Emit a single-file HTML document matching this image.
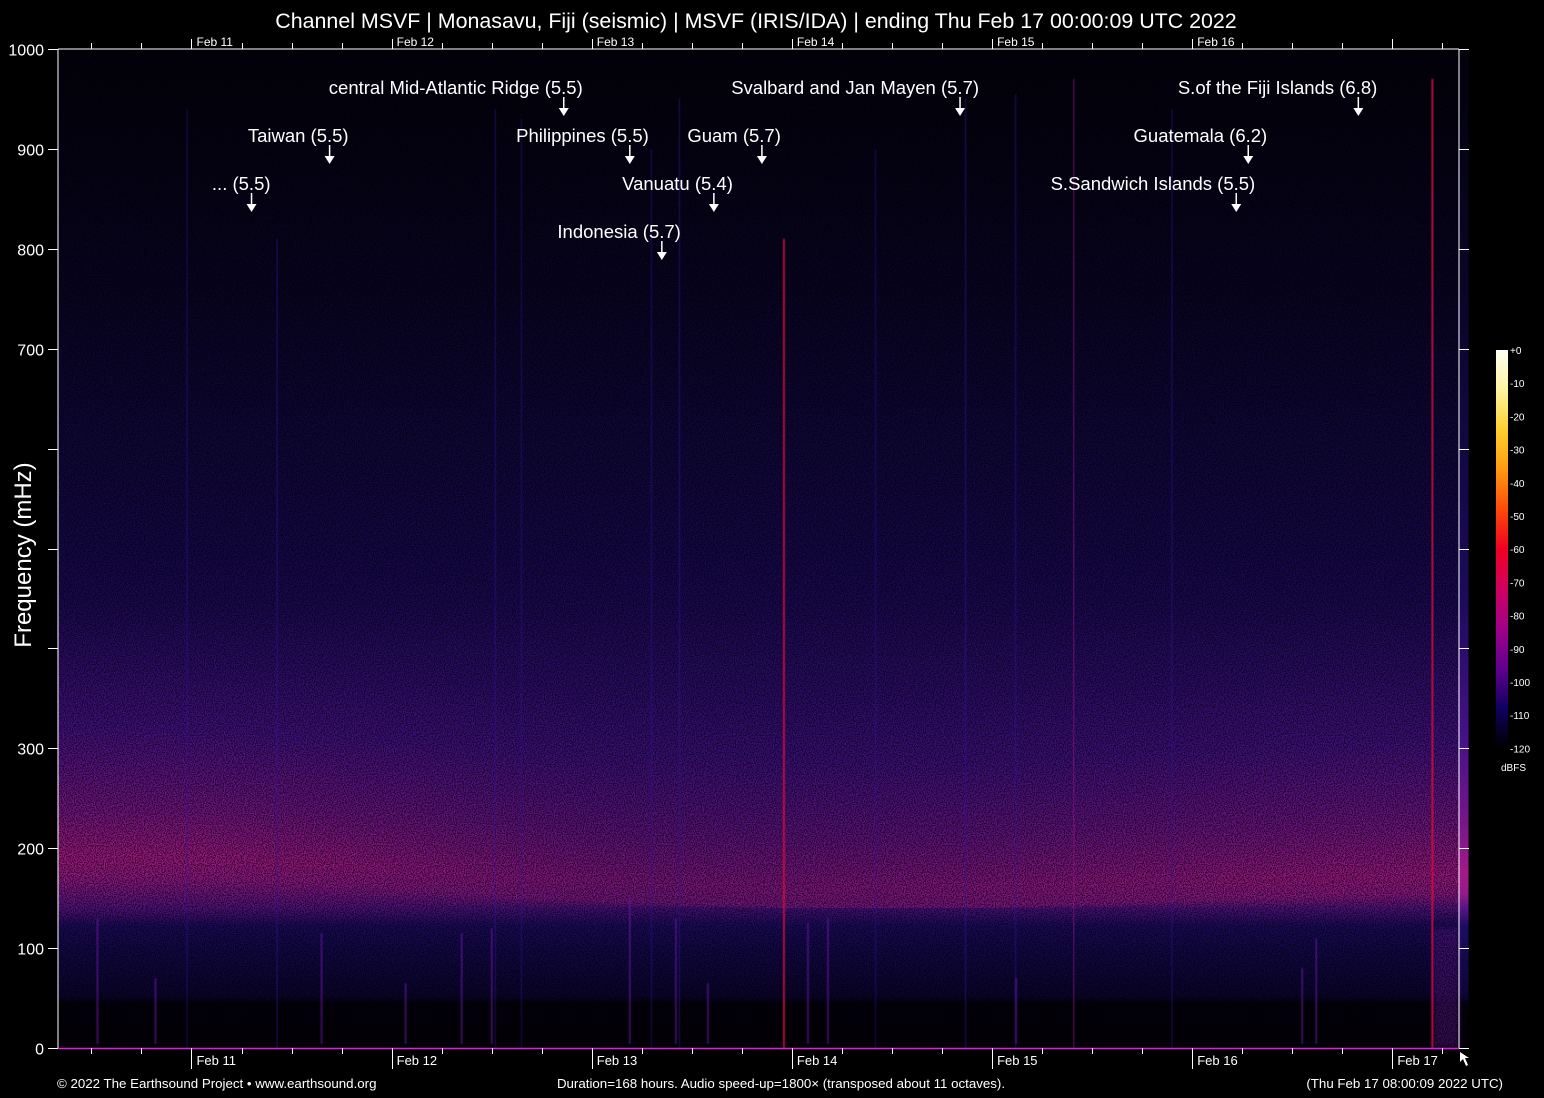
<!DOCTYPE html>
<html><head><meta charset="utf-8">
<style>
html,body{margin:0;padding:0;background:#000;}
svg{display:block;}
text{font-family:"Liberation Sans",Arial,sans-serif;fill:#fff;}
</style></head>
<body>
<svg id="chart" width="1544" height="1098" viewBox="0 0 1544 1098" xmlns="http://www.w3.org/2000/svg">
<defs>
<filter id="grain" x="0" y="0" width="100%" height="100%">
<feTurbulence type="fractalNoise" baseFrequency="0.9" numOctaves="1" seed="3" result="t"/>
<feColorMatrix type="matrix" values="0 0 0 0 0  0 0 0 0 0  0 0 0 0 0  2.6 0 0 0 -0.95" />
</filter>
<filter id="blur3"><feGaussianBlur stdDeviation="3"/></filter>
<filter id="blur1"><feGaussianBlur stdDeviation="0.5"/></filter>
<linearGradient id="cbar" x1="0" y1="0" x2="0" y2="1">
<stop offset="0" stop-color="#fffff4"/><stop offset="0.1" stop-color="#fff4a0"/>
<stop offset="0.2" stop-color="#ffd030"/><stop offset="0.3" stop-color="#ff9a10"/>
<stop offset="0.4" stop-color="#ff4a08"/><stop offset="0.5" stop-color="#f00020"/>
<stop offset="0.6" stop-color="#d00060"/><stop offset="0.7" stop-color="#a00088"/>
<stop offset="0.8" stop-color="#600090"/><stop offset="0.9" stop-color="#100060"/>
<stop offset="1" stop-color="#000000"/></linearGradient>
</defs>
<g id="plot"></g>
<g id="axes"></g>
</svg>
<script>
// ---- data ----
const bandDays   = [10.33, 11.0, 12.0, 12.6, 13.3, 14.0, 15.0, 16.0, 16.7, 17.33];
const bandPeak   = [190, 190, 180, 172, 165, 160, 160, 168, 172, 175];   // mHz
const bandLevel  = [1.0, 0.98, 0.85, 0.75, 0.65, 0.68, 0.75, 0.85, 0.92, 0.95];
const lineDays   = [11.43, 12.52, 12.65, 13.44, 13.96, 14.87, 15.12, 15.41, 15.90, 17.20, 10.98, 13.30, 14.42];
const lineTops   = [810, 940, 930, 950, 810, 950, 955, 970, 940, 970, 940, 900, 900];   // mHz
const lineLevel  = [0.45, 0.4, 0.3, 0.5, 0.95, 0.55, 0.45, 0.7, 0.35, 1.0, 0.25, 0.3, 0.25];
const shortDays  = [10.53, 10.82, 11.65, 12.07, 12.35, 12.50, 13.19, 13.42, 13.58, 14.08, 14.18, 15.12, 16.55, 16.62];
const shortTops  = [130, 70, 115, 65, 115, 120, 150, 130, 65, 125, 130, 70, 80, 110];
const eqLabels   = ["... (5.5)","Taiwan (5.5)","central Mid-Atlantic Ridge (5.5)","Philippines (5.5)","Indonesia (5.7)","Vanuatu (5.4)","Guam (5.7)","Svalbard and Jan Mayen (5.7)","S.Sandwich Islands (5.5)","Guatemala (6.2)","S.of the Fiji Islands (6.8)"];
const eqDays     = [11.30, 11.69, 12.86, 13.19, 13.35, 13.61, 13.85, 14.84, 16.22, 16.28, 16.83];
const eqRows     = [2, 1, 0, 1, 3, 2, 1, 0, 2, 1, 0];
const yTicks     = [0,100,200,300,400,500,600,700,800,900,1000];
const yTickLabels= ["0","100","200","300","","","","700","800","900","1000"];
const dayTicks   = [11,12,13,14,15,16,17];
const topDayTicks= [11,12,13,14,15,16];
const cbarLabels = ["+0","-10","-20","-30","-40","-50","-60","-70","-80","-90","-100","-110","-120"];

// ---- scales ----
const X0=58, X1=1459, Y0=1048, Y1=49;
const D0=10.333, D1=17.333;
const x = d => X0 + (d - D0) / (D1 - D0) * (X1 - X0);
const y = f => Y0 - f / 1000 * (Y0 - Y1);
const NS="http://www.w3.org/2000/svg";
const svg=document.getElementById('chart');
const plot=document.getElementById('plot');
const axes=document.getElementById('axes');
const defs=svg.querySelector('defs');
function mk(tag, attrs, parent){const e=document.createElementNS(NS,tag);for(const k in attrs)e.setAttribute(k,attrs[k]);(parent||svg).appendChild(e);return e;}
function interp(arrX, arrY, v){ if(v<=arrX[0])return arrY[0]; for(let i=1;i<arrX.length;i++){ if(v<=arrX[i]){const t=(v-arrX[i-1])/(arrX[i]-arrX[i-1]);return arrY[i-1]+t*(arrY[i]-arrY[i-1]);}} return arrY[arrY.length-1]; }
function mix(a,b,t){const pa=[1,3,5].map(i=>parseInt(a.substr(i,2),16)),pb=[1,3,5].map(i=>parseInt(b.substr(i,2),16));return 'rgb('+pa.map((v,i)=>Math.round(v+(pb[i]-v)*t)).join(',')+')';}

// ---- background strips ----
const bg=mk('g',{},plot);


const stripW=10;
for(let sx=X0; sx<X1; sx+=stripW){
  const d = D0 + (sx+stripW/2-X0)/(X1-X0)*(D1-D0);
  const pk = interp(bandDays,bandPeak,d), lv=interp(bandDays,bandLevel,d);
  const id='g'+sx;
  const lg=mk('linearGradient',{id:id,gradientUnits:'userSpaceOnUse',x1:0,y1:Y0,x2:0,y2:Y1},defs);
  const stops=[[0,'#030008'],[45,'#04010c'],[52,'#0c0532'],[100,'#150a52'],[122,'#1e0c64'],
    [140,mix('#2a0f74','#5a1488',lv)],[pk-20,mix('#3a1080','#9a1a8c',lv)],[pk,mix('#40107f','#a81a88',lv)],[pk+50,mix('#35107a','#7a168a',lv)],
    [pk+130,mix('#2a0e70','#48128a',lv)],[450,'#1c0a5a'],[600,'#120842'],[760,'#0a0528'],[900,'#050316'],[1000,'#03020d']];
  stops.forEach(s=>mk('stop',{offset:Math.max(0,Math.min(1,s[0]/1000)),'stop-color':s[1]},lg));
  mk('rect',{x:sx,y:Y1,width:stripW+0.5,height:Y0-Y1,fill:'url(#'+id+')'},bg);
}
const glow=mk('rect',{x:x(17.2),y:y(120),width:X1-x(17.2),height:y(0)-y(120),fill:'#5a1490',opacity:0.6,filter:'url(#blur3)'},plot);


const grain=mk('rect',{x:X0,y:Y1,width:X1-X0,height:Y0-Y1,filter:'url(#grain)',opacity:0.9},plot);



// ---- event lines ----
lineDays.forEach((d,i)=>{
  const lv=lineLevel[i];
  const col = lv>0.8 ? '#d8103e' : (lv>0.6 ? '#a0148c' : '#3018a0');
  const l=mk('rect',{x:x(d)-1,y:y(lineTops[i]),width:lv>0.8?2:1.2,height:y(0)-y(lineTops[i]),fill:col,opacity:0.35+lv*0.5,filter:'url(#blur1)'},plot);
  
  
});
shortDays.forEach((d,i)=>{
  const l=mk('rect',{x:x(d)-1,y:y(shortTops[i]),width:2,height:y(0)-y(shortTops[i])-4,fill:'#6a18a8',opacity:0.55,filter:'url(#blur1)'},plot);
  
  
});

// ---- labels ----
eqLabels.forEach((t,i)=>{
  const ax=x(eqDays[i]), base=94+eqRows[i]*48;
  const g=mk('g',{},plot);
  
  
  const tx=mk('text',{x:ax+19,y:base,'text-anchor':'end','font-size':18.5},g); tx.textContent=t;
  mk('line',{x1:ax,y1:base+3,x2:ax,y2:base+15,stroke:'#fff','stroke-width':1.5},g);
  mk('polygon',{points:`${ax-5},${base+14} ${ax+5},${base+14} ${ax},${base+22}`,fill:'#fff'},g);
});

// ---- axes ----
mk('line',{x1:X0,y1:Y1,x2:X0,y2:Y0,stroke:'#fff'},axes);
mk('line',{x1:X1,y1:Y1,x2:X1,y2:Y0,stroke:'#fff'},axes);
mk('line',{x1:X0,y1:Y1,x2:X1,y2:Y1,stroke:'#fff'},axes);
mk('line',{x1:X0,y1:Y0+0.5,x2:X1,y2:Y0+0.5,stroke:'#e020e0','stroke-width':1.5},axes);
yTicks.forEach((f,i)=>{
  const yy=Math.round(y(f))+0.5;
  mk('line',{x1:48,y1:yy,x2:X0,y2:yy,stroke:'#fff'},axes);
  mk('line',{x1:X1,y1:yy,x2:X1+10,y2:yy,stroke:'#fff'},axes);
  if(yTickLabels[i]){const t=mk('text',{x:44,y:yy+6,'text-anchor':'end','font-size':16},axes);t.textContent=yTickLabels[i];
    
    }
});
for(let d=10.5; d<D1; d+=0.25){
  const xx=Math.round(x(d))+0.5; if(xx<X0)continue;
  const major=Math.abs(d-Math.round(d))<1e-6;
  mk('line',{x1:xx,y1:Y1,x2:xx,y2:Y1-(major?10:6),stroke:'#fff'},axes);
  mk('line',{x1:xx,y1:Y0,x2:xx,y2:Y0+(major?21:6),stroke:'#fff'},axes);
}
topDayTicks.forEach(d=>{
  const t1=mk('text',{x:x(d)+5,y:46,'font-size':12},axes);t1.textContent='Feb '+d;
  
  
});
dayTicks.forEach(d=>{
  const t2=mk('text',{x:x(d)+5,y:1065,'font-size':13},axes);t2.textContent='Feb '+d;
  
  
});
const yt=mk('text',{x:0,y:0,'font-size':24,transform:'translate(31,555) rotate(-90)','text-anchor':'middle'},axes);yt.textContent='Frequency (mHz)';


const title=mk('text',{x:756,y:28,'font-size':21.4,'text-anchor':'middle'},axes);
title.textContent='Channel MSVF | Monasavu, Fiji (seismic) | MSVF (IRIS/IDA) | ending Thu Feb 17 00:00:09 UTC 2022';


const f1=mk('text',{x:57,y:1088,'font-size':13.3},axes);f1.textContent='© 2022 The Earthsound Project • www.earthsound.org';


const f2=mk('text',{x:781,y:1088,'font-size':13.3,'text-anchor':'middle'},axes);f2.textContent='Duration=168 hours. Audio speed-up=1800× (transposed about 11 octaves).';


const f3=mk('text',{x:1503,y:1088,'font-size':13.3,'text-anchor':'end'},axes);f3.textContent='(Thu Feb 17 08:00:09 2022 UTC)';


const cur=mk('polygon',{points:'1460,1052 1460,1062 1463,1059 1466,1066 1468,1065 1465,1058 1469,1058',fill:'#fff'},axes);



// ---- colour bar ----
const cb=mk('g',{},axes);


mk('rect',{x:1496,y:350,width:12,height:398,fill:'url(#cbar)'},cb);
cbarLabels.forEach((l,i)=>{
  const t=mk('text',{x:1510,y:354+i*33.2,'font-size':10},cb);t.textContent=l;
  
  
});
const du=mk('text',{x:1501,y:771,'font-size':10},cb);du.textContent='dBFS';


</script>
</body></html>
